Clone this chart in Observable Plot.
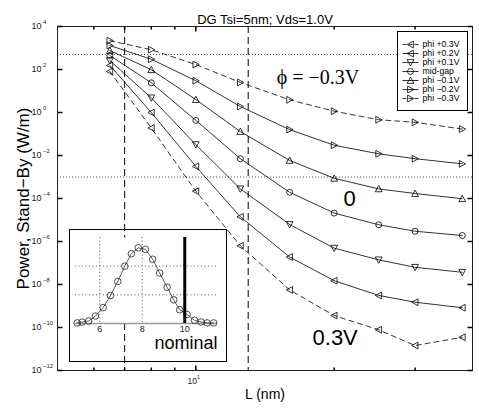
<!DOCTYPE html>
<html><head><meta charset="utf-8">
<script src="https://cdn.jsdelivr.net/npm/d3@7"></script>
<script src="https://cdn.jsdelivr.net/npm/@observablehq/plot@0.6"></script>
<style>
html,body{margin:0;padding:0;background:#fff;}
#wrap{position:relative;width:479px;height:409px;font-family:"Liberation Sans",Arial,sans-serif;}
#main{position:absolute;left:0;top:0;}
#inset{position:absolute;left:69px;top:229px;width:158px;height:133px;border:1px solid #000;box-sizing:border-box;}
#legend{position:absolute;left:397px;top:31px;width:71px;height:80px;border:1px solid #000;box-sizing:border-box;background:#fff;}
#inset svg,#legend svg{position:absolute;left:0;top:0;}
</style></head><body>
<div id="wrap"><div id="main"></div><div id="inset"></div><div id="legend"></div></div>
<script>
// ---- data ----
const L = [6.5, 8, 10, 12.5, 16, 20, 25, 30, 38];               // gate length, nm
const phiP03 = [81, 0.19, 2.2e-4, 6.3e-7, 5.6e-9, 3.6e-10, 7.8e-11, 1.45e-11, 3.5e-11];
const phiP02 = [155, 1.0, 3.1e-3, 1.4e-5, 1.9e-7, 1.5e-8, 3.1e-9, 1.5e-9, 8.3e-10];
const phiP01 = [260, 4.8, 3.2e-2, 2.8e-4, 6.2e-6, 4.9e-7, 1.4e-7, 6.3e-8, 3.7e-8];
const midGap = [450, 24, 0.43, 7.1e-3, 1.95e-4, 2.1e-5, 6.0e-6, 3.0e-6, 1.9e-6];
const phiM01 = [760, 98, 4.0, 0.13, 5.9e-3, 8.7e-4, 2.8e-4, 1.7e-4, 9.8e-5];
const phiM02 = [1300, 300, 30, 1.9, 0.16, 3.0e-2, 1.2e-2, 7.1e-3, 4.1e-3];
const phiM03 = [2200, 830, 170, 25, 3.9, 1.15, 0.46, 0.35, 0.17];
const seriesNames = ["phi +0.3V", "phi +0.2V", "phi +0.1V", "mid-gap", "phi \u22120.1V", "phi \u22120.2V", "phi \u22120.3V"];
const limitLines = [500, 1e-3];          // dotted horizontal reference levels
const lengthLimits = [7, 13];            // dashed vertical reference lengths
const yTickPowers = [4, 2, 0, -2, -4, -6, -8, -10, -12];
const xMinorTicks = [6, 7, 8, 9, 20, 30];
const xMajorTicks = [10];
// inset: gate-length distribution
const insetL = [4.94, 5.17, 5.48, 5.80, 6.16, 6.50, 6.85, 7.18, 7.49, 7.81, 8.15, 8.49, 8.82, 9.17, 9.48, 9.76, 10.11, 10.46, 10.77, 11.05, 11.36];
const insetP = [0.003, 0.007, 0.013, 0.039, 0.083, 0.146, 0.22, 0.30, 0.365, 0.396, 0.388, 0.336, 0.264, 0.19, 0.124, 0.072, 0.047, 0.017, 0.008, 0.003, 0.003];
const insetTicks = [6, 8, 10];
const insetGridY = [0.15, 0.3];
const nominalL = 10;

// ---- symbols ----
const R = 3.4;
function poly(pts) { return {draw(ctx) { ctx.moveTo(pts[0][0], pts[0][1]); for (let i = 1; i < pts.length; i++) ctx.lineTo(pts[i][0], pts[i][1]); ctx.closePath(); }}; }
const triLeft = poly([[-R, 0], [R * 0.85, -R], [R * 0.85, R]]);
const triRight = poly([[R, 0], [-R * 0.85, -R], [-R * 0.85, R]]);
const triUp = poly([[0, -R], [R, R * 0.85], [-R, R * 0.85]]);
const triDown = poly([[0, R], [R, -R * 0.85], [-R, -R * 0.85]]);
const seg = (x1, y1, x2, y2) => ({draw(ctx) { ctx.moveTo(x1, y1); ctx.lineTo(x2, y2); }});

const valueArrays = [phiP03, phiP02, phiP01, midGap, phiM01, phiM02, phiM03];
const symbols = [triLeft, triLeft, triDown, "circle", triUp, triRight, triRight];
const dashed = [true, false, false, false, false, false, true];

const series = seriesNames.map((name, i) => ({name, values: valueArrays[i], symbol: symbols[i], dashed: dashed[i]}));
const rows = series.flatMap(s => L.map((l, i) => ({series: s.name, L: l, P: s.values[i]})));
const yTicks = yTickPowers.map(p => ({v: Math.pow(10, p), p}));

const marks = [
  Plot.ruleY(limitLines, {stroke: "#555", strokeWidth: 1, strokeDasharray: "1,2"}),
  Plot.ruleX(lengthLimits, {stroke: "#000", strokeWidth: 1, strokeDasharray: "7,4"})
];
for (const s of series) {
  const d = rows.filter(r => r.series === s.name);
  marks.push(Plot.line(d, {x: "L", y: "P", stroke: "#000", strokeWidth: 0.8, strokeDasharray: s.dashed ? "5,4" : null}));
  marks.push(Plot.dot(d, {x: "L", y: "P", symbol: s.symbol, r: s.symbol === "circle" ? 3 : 3.4, stroke: "#000", fill: "none", strokeWidth: 0.8}));
}
marks.push(
  Plot.frame({stroke: "#222", strokeWidth: 1}),
  // y ticks (inward) left and right
  Plot.dot(yTicks, {y: "v", frameAnchor: "left", symbol: seg(0, 0, 5, 0), stroke: "#000", fill: "none"}),
  Plot.dot(yTicks, {y: "v", frameAnchor: "right", symbol: seg(0, 0, -5, 0), stroke: "#000", fill: "none"}),
  Plot.text(yTicks, {y: "v", text: () => "10", frameAnchor: "left", textAnchor: "end", dx: -16, fontSize: 9, fill: "#222"}),
  Plot.text(yTicks, {y: "v", text: d => String(d.p).replace("-", "\u2212"), frameAnchor: "left", textAnchor: "start", dx: -14.5, dy: -4.5, fontSize: 6, fill: "#222"}),
  // x ticks
  Plot.dot(xMinorTicks, {x: d => d, frameAnchor: "bottom", symbol: seg(0, 0, 0, -3), stroke: "#000", fill: "none"}),
  Plot.dot(xMinorTicks, {x: d => d, frameAnchor: "top", symbol: seg(0, 0, 0, 3), stroke: "#000", fill: "none"}),
  Plot.dot(xMajorTicks, {x: d => d, frameAnchor: "bottom", symbol: seg(0, 0, 0, -5), stroke: "#000", fill: "none"}),
  Plot.dot(xMajorTicks, {x: d => d, frameAnchor: "top", symbol: seg(0, 0, 0, 5), stroke: "#000", fill: "none"}),
  Plot.text(xMajorTicks, {x: d => d, text: () => "10", frameAnchor: "bottom", textAnchor: "middle", dx: -3.5, dy: 13, fontSize: 8.5, fill: "#222"}),
  Plot.text(xMajorTicks, {x: d => d, text: () => "1", frameAnchor: "bottom", textAnchor: "start", dx: 1, dy: 8, fontSize: 6, fill: "#222"}),
  // titles
  Plot.text(["DG Tsi=5nm; Vds=1.0V"], {frameAnchor: "top", textAnchor: "middle", dy: -12, fontSize: 13, fill: "#000"}),
  Plot.text(["L (nm)"], {frameAnchor: "bottom", textAnchor: "middle", dy: 28, fontSize: 14, fill: "#000"}),
  Plot.text(["Power, Stand\u2212By (W/m)"], {frameAnchor: "left", textAnchor: "middle", dx: -34, rotate: -90, fontSize: 17, fill: "#000"}),
  // annotations
  Plot.text(["\u03D5 = \u22120.3V"], {x: 15, y: 43, textAnchor: "start", fontSize: 20, fontFamily: "Liberation Serif, Times New Roman, serif", fill: "#000"}),
  Plot.text(["0"], {x: 21.6, y: 1e-4, textAnchor: "middle", fontSize: 22, fill: "#000"}),
  Plot.text(["0.3V"], {x: 20.1, y: 3.4e-11, textAnchor: "middle", fontSize: 22, fill: "#000"})
);

const main = Plot.plot({
  width: 479, height: 409,
  marginLeft: 57, marginRight: 7, marginTop: 26, marginBottom: 39,
  x: {type: "log", domain: [5, 40], axis: null},
  y: {type: "log", domain: [1e-12, 1e4], axis: null},
  style: {fontFamily: "Liberation Sans, Arial, sans-serif", background: "white", overflow: "visible"},
  marks
});
document.getElementById("main").appendChild(main);

// ---- inset ----
const insetRows = insetL.map((l, i) => ({L: l, p: insetP[i]}));
const inset = Plot.plot({
  width: 156, height: 131,
  marginLeft: 5, marginRight: 9, marginTop: 7, marginBottom: 38,
  x: {domain: [4.86, 11.54], axis: null},
  y: {domain: [0, 0.45], axis: null},
  style: {fontFamily: "Liberation Sans, Arial, sans-serif", background: "none", overflow: "visible"},
  marks: [
    Plot.frame({fill: "white", stroke: "none"}),
    Plot.ruleY(insetGridY, {stroke: "#333", strokeDasharray: "1,2.5", strokeWidth: 0.8}),
    Plot.ruleX(insetTicks, {stroke: "#333", strokeDasharray: "1,2.5", strokeWidth: 0.8}),
    Plot.ruleY([0], {stroke: "#999", strokeWidth: 1.5}),
    Plot.line(insetRows, {x: "L", y: "p", stroke: "#333", strokeWidth: 0.8}),
    Plot.dot(insetRows, {x: "L", y: "p", r: 3.3, stroke: "#222", fill: "none", strokeWidth: 0.8}),
    Plot.ruleX([nominalL], {stroke: "#000", strokeWidth: 3}),
    Plot.text(insetTicks, {x: d => d, text: d => String(d), frameAnchor: "bottom", textAnchor: "middle", dy: 8.5, fontSize: 9, fill: "#222"}),
    Plot.text(["nominal"], {frameAnchor: "bottom-right", textAnchor: "end", dx: 0, dy: 25.5, fontSize: 18, fill: "#000"})
  ]
});
document.getElementById("inset").appendChild(inset);

// ---- legend ----
const legend = Plot.plot({
  width: 69, height: 78, margin: 0,
  x: {domain: [0, 69], range: [0, 69], axis: null},
  y: {type: "point", domain: seriesNames, range: [4.7, 73.3], axis: null},
  style: {fontFamily: "Liberation Sans, Arial, sans-serif", background: "white", overflow: "visible"},
  marks: [
    ...series.map(s => Plot.dot([s.name], {y: d => d, frameAnchor: "left", dx: 12, symbol: seg(-8, 0, 8, 0), stroke: "#000", fill: "none", strokeWidth: 0.8, strokeDasharray: s.dashed ? "4,2" : null})),
    ...series.map(s => Plot.dot([s.name], {y: d => d, frameAnchor: "left", dx: 12, symbol: s.symbol, r: 3, stroke: "#000", fill: "none", strokeWidth: 0.8})),
    Plot.text(seriesNames, {y: d => d, text: d => d, frameAnchor: "left", textAnchor: "start", dx: 24, fontSize: 8.7, fill: "#000"})
  ]
});
document.getElementById("legend").appendChild(legend);
</script>
</body></html>
